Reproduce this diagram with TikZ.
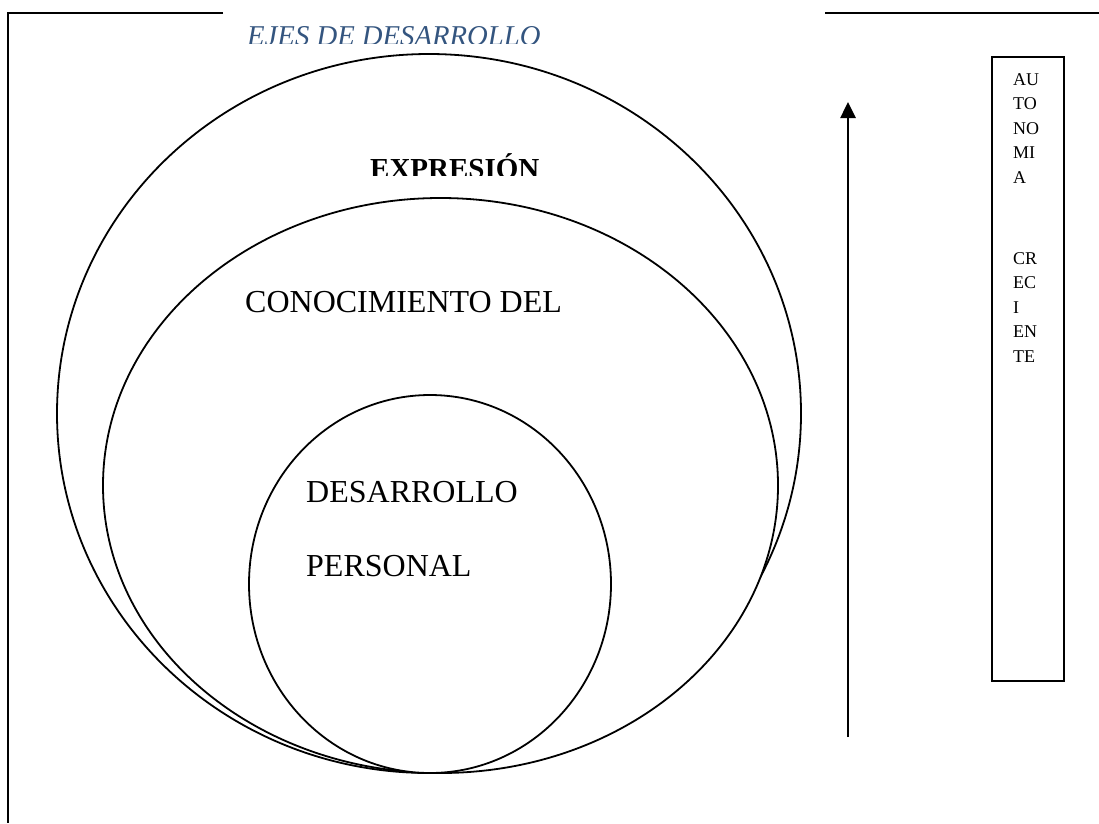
\documentclass[tikz,border=0pt]{standalone}
\usepackage{fontspec}
\setmainfont{Liberation Serif}
\usetikzlibrary{shapes.geometric,arrows.meta}
\definecolor{titleblue}{HTML}{34557F}

\begin{document}
\begin{tikzpicture}[x=1pt, y=-1pt,
          ring/.style={draw, ellipse, fill=white, line width=1.8pt, inner sep=0pt},
          lbl/.style={anchor=base west, inner sep=0pt, font=\fontsize{32}{38}\selectfont},
          vlbl/.style={anchor=north west, inner sep=0pt, align=left, font=\fontsize{18}{24.5}\selectfont},
          frame/.style={line width=2.2pt},
        ]
          \useasboundingbox (0,0) rectangle (1099,823);

          % frame
          \coordinate (fa) at (223,13);
          \coordinate (ftl) at (8,13);
          \coordinate (fbl) at (8,823);
          \coordinate (fb) at (825,13);
          \coordinate (fbr) at (1099,13);
          \draw[frame] (fa) -- (ftl) -- (fbl);
          \draw[frame] (fb) -- (fbr);

          \begin{scope}
            \clip (200,0) rectangle (600,43);
            \node[anchor=base west, inner sep=0pt, text=titleblue, font=\fontsize{28.7}{34}\selectfont\itshape] (title) at (247,45) {EJES DE DESARROLLO};
          \end{scope}

          \node[ring, minimum width=744pt, minimum height=719pt] (outer) at (429,413.5) {};
          \begin{scope}
            \clip (300,100) rectangle (600,175);
            \node[anchor=base west, inner sep=0pt, font=\bfseries\fontsize{29}{34}\selectfont] (expr) at (370,178) {EXPRESIÓN};
          \end{scope}

          \node[ring, minimum width=675pt, minimum height=575pt] (middle) at (440.5,485.5) {};
          \node[lbl] (conoc) at (245,312) {CONOCIMIENTO DEL};

          \node[ring, minimum width=362pt, minimum height=378pt] (inner) at (430,584) {};
          \node[lbl] (desa) at (306,502) {DESARROLLO};
          \node[lbl] (pers) at (306,576) {PERSONAL};

          \coordinate (arrlow) at (848,737);
          \coordinate (arrhigh) at (848,102);
          \draw[-{Triangle[length=16pt,width=15pt]}, line width=2.6pt] (arrlow) -- (arrhigh);

          \node[draw, line width=1.8pt, minimum width=72pt, minimum height=624pt, inner sep=0pt] (autbox) at (1028,369) {};
          \node[vlbl] (auto) at (1013,73) {AU\\TO\\NO\\MI\\A};
          \node[vlbl] (crec) at (1013,252) {CR\\EC\\I\\EN\\TE};
        \end{tikzpicture}
\end{document}
